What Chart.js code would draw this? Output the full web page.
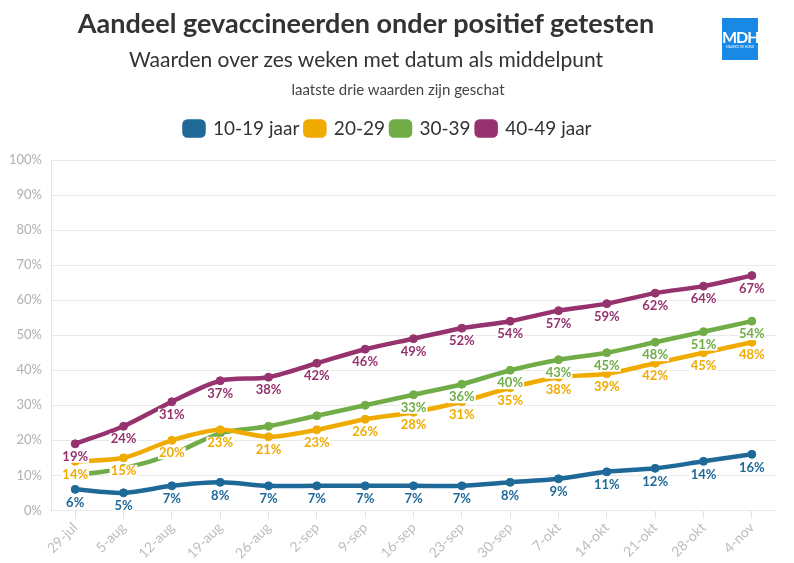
<!DOCTYPE html>
<html>
<head>
<meta charset="utf-8">
<script src="https://cdn.jsdelivr.net/npm/chart.js@4.4.0/dist/chart.umd.min.js"></script>
<style>
  body { margin: 0; background: #fff; font-family: Lato, sans-serif; }
  #wrap { position: relative; width: 794px; height: 563px; }
  .hdr { position: absolute; left: 0; text-align: center; color: #333; white-space: nowrap; }
  #title { top: 6px; width: 732px; font-size: 27px; font-weight: 700; }
  #sub { top: 46px; width: 732px; font-size: 21px; }
  #sub2 { top: 80px; width: 796px; font-size: 15px; color: #444; }
  #logo { position: absolute; left: 722px; top: 18px; width: 36px; height: 42px; background: #1a89e6; color: #fff; text-align: center; }
  #logo b { display: block; font-size: 16px; line-height: 16px; margin-top: 11px; letter-spacing: -1px; }
  #logo span { display: block; font-size: 3px; line-height: 4px; }
  canvas { position: absolute; left: 0; top: 0; }
</style>
</head>
<body>
<div id="wrap">
  <canvas id="myChart" width="794" height="563"></canvas>
  <div class="hdr" id="title">Aandeel gevaccineerden onder positief getesten</div>
  <div class="hdr" id="sub">Waarden over zes weken met datum als middelpunt</div>
  <div class="hdr" id="sub2">laatste drie waarden zijn geschat</div>
  <div id="logo"><b>MDH</b><span>MAURICE DE HOND</span></div>
</div>
<script>
var weeks = ['29-jul', '5-aug', '12-aug', '19-aug', '26-aug', '2-sep', '9-sep', '16-sep',
             '23-sep', '30-sep', '7-okt', '14-okt', '21-okt', '28-okt', '4-nov'];

var age10_19 = [6, 5, 7, 8, 7, 7, 7, 7, 7, 8, 9, 11, 12, 14, 16];
var age20_29 = [14, 15, 20, 23, 21, 23, 26, 28, 31, 35, 38, 39, 42, 45, 48];
var age30_39 = [10, 12, 16, 22, 24, 27, 30, 33, 36, 40, 43, 45, 48, 51, 54];
var age40_49 = [19, 24, 31, 37, 38, 42, 46, 49, 52, 54, 57, 59, 62, 64, 67];

// labels that are not shown in the original (they overlap other series)
var hidden30_39 = [0, 1, 2, 3, 4, 5, 6];

var ctx = document.getElementById("myChart").getContext("2d");

// draws the value under each point, on a white box
var pointLabels = {
    id: 'pointLabels',
    afterDatasetsDraw: function(chart) {
        var c = chart.ctx;
        c.save();
        c.font = 'bold 13px Lato';
        c.textAlign = 'center';
        c.textBaseline = 'middle';
        chart.data.datasets.forEach(function(ds, i) {
            var meta = chart.getDatasetMeta(i);
            meta.data.forEach(function(pt, j) {
                if (ds.hideLabels && ds.hideLabels.indexOf(j) >= 0) return;
                var txt = ds.data[j] + '%';
                var w = c.measureText(txt).width;
                var y = pt.y + 13;
                c.fillStyle = '#fff';
                c.fillRect(pt.x - w / 2 - 1, y - 6, w + 2, 12);
                c.fillStyle = ds.borderColor;
                c.fillText(txt, pt.x, y);
            });
        });
        c.restore();
    }
};

// a bit more room under the legend
var legendSpace = {
    id: 'legendSpace',
    beforeInit: function(chart) {
        var fit = chart.legend.fit;
        chart.legend.fit = function() {
            fit.bind(chart.legend)();
            this.height += 12;
        };
    }
};

function serie(name, values, color) {
    return {
        label: name,
        data: values,
        borderColor: color,
        backgroundColor: color,
        borderWidth: 4.5,
        pointRadius: 4,
        pointBorderWidth: 1,
        pointHoverRadius: 4,
        tension: 0.3
    };
}

var s4 = serie('30-39', age30_39, 'rgb(112,173,71)');
s4.hideLabels = hidden30_39;

var myChart = new Chart(ctx, {
    type: 'line',
    data: {
        labels: weeks,
        datasets: [
            serie('10-19 jaar', age10_19, 'rgb(30,105,152)'),
            serie('20-29', age20_29, 'rgb(240,171,0)'),
            s4,
            serie('40-49 jaar', age40_49, 'rgb(150,50,110)')
        ]
    },
    options: {
        responsive: false,
        animation: false,
        layout: { padding: { top: 113, right: 18, left: 0, bottom: 0 } },
        plugins: {
            legend: {
                position: 'top',
                labels: {
                    color: '#333',
                    font: { size: 19, family: 'Lato' },
                    boxWidth: 19,
                    boxHeight: 14,
                    useBorderRadius: true,
                    borderRadius: 3,
                    padding: 6
                }
            },
            tooltip: { enabled: false }
        },
        scales: {
            x: {
                offset: true,
                grid: { drawOnChartArea: false, drawTicks: true, tickLength: 8, color: '#e4e4e4' },
                border: { display: false },
                ticks: { color: '#bdbdbd', padding: 1, font: { size: 14, family: 'Lato' }, minRotation: 45, maxRotation: 45 }
            },
            y: {
                min: 0,
                max: 100,
                grid: { color: '#e8e8e8', drawTicks: false },
                border: { color: '#e4e4e4' },
                ticks: {
                    stepSize: 10,
                    padding: 9,
                    color: '#b0b0b0',
                    font: { size: 13, family: 'Lato' },
                    callback: function(v) { return v + '%'; }
                }
            }
        }
    },
    plugins: [pointLabels, legendSpace]
});
</script>
</body>
</html>
